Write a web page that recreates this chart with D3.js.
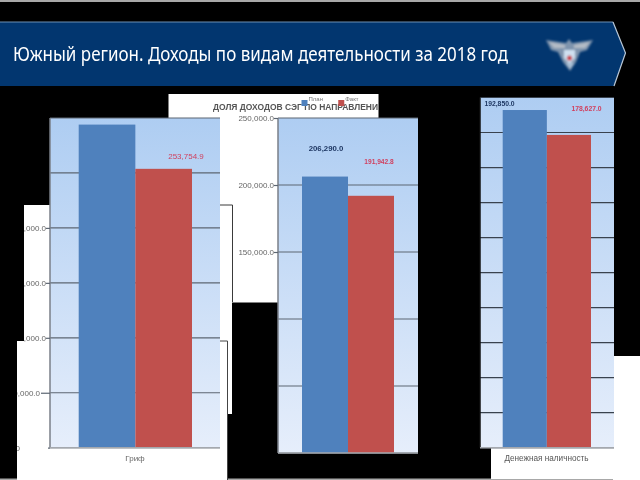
<!DOCTYPE html>
<html><head><meta charset="utf-8">
<script src="https://cdn.jsdelivr.net/npm/d3@7"></script>
<style>html,body{margin:0;padding:0;background:#000}svg{display:block}</style>
</head><body><div id="c"></div>
<script>
const titleText = "Южный регион. Доходы по видам деятельности за 2018 год";
const backTitle = "ДОЛЯ ДОХОДОВ СЭГ ПО НАПРАВЛЕНИ";
const seriesNames = ["План", "Факт"];
const seriesColors = ["#4f81bd", "#c0504d"];

const grifCategory = "Гриф";
const grifValues = [294000, 253754.9];
const grifLabels = [null, "253,754.9"];
const grifTicks = [0, 50000, 100000, 150000, 200000, 250000, 300000];

const middleValues = [206290, 191942.8];
const middleLabels = ["206,290.0", "191,942.8"];
const middleTicks = [0, 50000, 100000, 150000, 200000, 250000];
const middleTickLabels = [150000, 200000, 250000];

const cashCategory = "Денежная наличность";
const cashValues = [192850, 178627];
const cashLabels = ["192,850.0", "178,627.0"];
const cashTicks = [0, 20000, 40000, 60000, 80000, 100000, 120000, 140000, 160000, 180000, 200000];

const W = 640, H = 480;
const svg = d3.select("#c").append("svg").attr("width", W).attr("height", H);
const defs = svg.append("defs");
const grad = defs.append("linearGradient").attr("id", "plotBg").attr("x1", 0).attr("y1", 0).attr("x2", 0).attr("y2", 1);
grad.append("stop").attr("offset", "0%").attr("stop-color", "#aecdf2");
grad.append("stop").attr("offset", "100%").attr("stop-color", "#e6eefb");
defs.append("filter").attr("id", "soft").append("feGaussianBlur").attr("stdDeviation", 0.35);
defs.append("filter").attr("id", "softer").append("feGaussianBlur").attr("stdDeviation", 0.7);
defs.append("filter").attr("id", "logoBlur").append("feGaussianBlur").attr("stdDeviation", 0.8);

const FONT = "'Liberation Sans', Arial, sans-serif";

// page
svg.append("rect").attr("width", W).attr("height", H).attr("fill", "#000");
svg.append("rect").attr("width", W).attr("height", 2).attr("fill", "#a8a8a8");
svg.append("rect").attr("y", 478.5).attr("width", W).attr("height", 1.5).attr("fill", "#a8a8a8");

// banner
svg.append("path").attr("d", "M0,22L613,22L625.5,53L614,86L0,86Z").attr("fill", "#02366f");
svg.append("path").attr("d", "M0,22L613,22").attr("stroke", "#6d8fb3").attr("stroke-width", 1).attr("fill", "none");
svg.append("path").attr("d", "M613,22L625.5,53L614,86").attr("stroke", "#b9c7d6").attr("stroke-width", 1.2).attr("fill", "none");
svg.append("text").text(titleText).attr("x", 13).attr("y", 60.5)
  .attr("fill", "#fff").attr("font-family", "'Noto Sans', sans-serif").attr("font-size", 19)
  .attr("textLength", 495).attr("lengthAdjust", "spacingAndGlyphs").attr("filter", "url(#soft)");

// emblem
const logo = svg.append("g").attr("filter", "url(#logoBlur)");
logo.append("path").attr("d", "M546,40L566,43L569,39L572,43L593,40L587,50L580,52L576,62L570,71L563,62L558,52L551,50Z").attr("fill", "#7f94ad");
logo.append("path").attr("d", "M549,42L565,45L565,48L554,48Z M590,42L574,45L574,48L585,48Z").attr("fill", "#b4bcc6");
logo.append("path").attr("d", "M564,50L575,50L575,58L569.5,64L564,58Z").attr("fill", "#cfe0f0");
logo.append("circle").attr("cx", 569.5).attr("cy", 58).attr("r", 2.6).attr("fill", "#c9404a");
logo.append("path").attr("d", "M566,63L574,63L570,69Z").attr("fill", "#a9c0d6");

// back panel with its title and legend
svg.append("rect").attr("x", 168.5).attr("y", 94).attr("width", 210).attr("height", 208.5).attr("fill", "#fff");
svg.append("text").text(backTitle).attr("x", 213).attr("y", 110).attr("fill", "#555")
  .attr("font-family", FONT).attr("font-weight", "bold").attr("font-size", 8.6)
  .attr("textLength", 165).attr("lengthAdjust", "spacingAndGlyphs").attr("filter", "url(#soft)");
const legendX = d3.scaleBand().domain(seriesNames).range([301.5, 375]);
const lg = svg.append("g").selectAll("g").data(seriesNames).join("g")
  .attr("transform", d => `translate(${legendX(d)},100)`);
lg.append("rect").attr("width", 6).attr("height", 6).attr("fill", (d, i) => seriesColors[i]);
lg.append("text").text(d => d).attr("x", 7).attr("y", 1).attr("fill", "#777").attr("font-family", FONT)
  .attr("font-size", 6).attr("filter", "url(#softer)");

// second and third white panels (behind the Гриф chart)
svg.append("rect").attr("x", 23).attr("y", 205).attr("width", 209).attr("height", 209).attr("fill", "#fff");
svg.append("path").attr("d", "M200,205H232.5V302").attr("stroke", "#3a3a3a").attr("fill", "none");
svg.append("rect").attr("x", 17).attr("y", 341).attr("width", 211).attr("height", 139).attr("fill", "#fff");
svg.append("path").attr("d", "M200,341H227.5V480").attr("stroke", "#444").attr("fill", "none");
// white panels on the lower right
svg.append("rect").attr("x", 613).attr("y", 356).attr("width", 27).attr("height", 124).attr("fill", "#fff");
svg.append("rect").attr("x", 491).attr("y", 448).attr("width", 149).attr("height", 31).attr("fill", "#fff");

function drawChart(cfg) {
  const y = d3.scaleLinear().domain([0, cfg.max]).range([cfg.bottom, cfg.top]);
  const x = d3.scaleBand().domain(seriesNames).range([cfg.barLeft, cfg.barRight]);
  const g = svg.append("g");
  g.append("rect").attr("x", cfg.left).attr("y", cfg.top).attr("width", cfg.right - cfg.left)
    .attr("height", cfg.bottom - cfg.top).attr("fill", "url(#plotBg)");
  g.append("g").selectAll("line").data(cfg.ticks).join("line")
    .attr("x1", cfg.left).attr("x2", cfg.right).attr("y1", d => y(d)).attr("y2", d => y(d))
    .attr("stroke", cfg.gridColor).attr("stroke-width", 1.2);
  g.append("g").selectAll("rect").data(cfg.values).join("rect")
    .attr("x", (d, i) => x(seriesNames[i])).attr("width", x.bandwidth())
    .attr("y", d => y(d)).attr("height", d => cfg.bottom - y(d))
    .attr("fill", (d, i) => seriesColors[i]);
  g.append("line").attr("x1", cfg.left).attr("x2", cfg.left).attr("y1", cfg.top).attr("y2", cfg.bottom)
    .attr("stroke", cfg.axisColor).attr("stroke-width", 1.5);
  g.append("line").attr("x1", cfg.left).attr("x2", cfg.right).attr("y1", cfg.bottom).attr("y2", cfg.bottom)
    .attr("stroke", "#a4a8ae").attr("stroke-width", 1.5);
  g.append("g").selectAll("text").data(cfg.labels.map((t, i) => ({ t, i })).filter(d => d.t)).join("text")
    .text(d => d.t)
    .attr("x", d => cfg.labelPos[d.i][0]).attr("y", d => cfg.labelPos[d.i][1])
    .attr("text-anchor", "middle").attr("font-family", FONT)
    .attr("font-size", d => cfg.labelSize[d.i]).attr("font-weight", cfg.labelWeight)
    .attr("fill", d => d.i === 0 ? "#1f3864" : "#d0405f").attr("filter", "url(#soft)");
  return { x, y, g };
}

const midY = d3.scaleLinear().domain([0, 250000]).range([453, 118]);
function styleAxis(sel) {
  sel.select(".domain").remove();
  sel.selectAll("line").attr("stroke", "#5c6672").attr("stroke-width", 1.2);
  sel.selectAll("text").attr("fill", "#666").attr("font-family", FONT).attr("font-size", 8).attr("filter", "url(#soft)");
}

const grif = drawChart({
  left: 50, right: 220, top: 118, bottom: 447.7, max: 300000,
  barLeft: 78.7, barRight: 192, ticks: grifTicks, values: grifValues, labels: grifLabels,
  labelPos: [[107, 112], [186, 158.5]], labelSize: [8, 8], labelWeight: "normal",
  axisColor: "#7a7f88", gridColor: "#5c6672"
});
const fmt = d3.format(",.1f");
svg.append("g").attr("transform", "translate(50,0)")
  .call(d3.axisLeft(grif.y).tickValues([100000, 150000, 200000]).tickSize(4).tickPadding(0).tickFormat(fmt))
  .call(styleAxis);
svg.append("g").attr("transform", "translate(50,0)")
  .call(d3.axisLeft(grif.y).tickValues([50000]).tickSize(9).tickPadding(1).tickFormat(fmt))
  .call(styleAxis);
svg.append("g").attr("transform", "translate(50,0)")
  .call(d3.axisLeft(grif.y).tickValues([0]).tickSize(2).tickPadding(28).tickFormat(d => "0"))
  .call(styleAxis);
// cover what falls outside the white panels
svg.append("rect").attr("x", 0).attr("y", 205).attr("width", 24).attr("height", 136).attr("fill", "#000");
svg.append("rect").attr("x", 0).attr("y", 341).attr("width", 17).attr("height", 137).attr("fill", "#000");

svg.append("text").text(grifCategory).attr("x", 135).attr("y", 461).attr("text-anchor", "middle")
  .attr("fill", "#666").attr("font-family", FONT).attr("font-size", 8).attr("filter", "url(#soft)");

const mid = drawChart({
  left: 278, right: 418, top: 118, bottom: 453, max: 250000,
  barLeft: 302, barRight: 394, ticks: middleTicks, values: middleValues, labels: middleLabels,
  labelPos: [[326, 151], [379, 164]], labelSize: [7.8, 6.6], labelWeight: "bold",
  axisColor: "#7a7f88", gridColor: "#5c6672"
});
svg.append("g").attr("transform", "translate(278,0)")
  .call(d3.axisLeft(midY).tickValues(middleTickLabels).tickSize(4).tickPadding(0).tickFormat(fmt))
  .call(styleAxis);

const cash = drawChart({
  left: 480, right: 614, top: 97.5, bottom: 447.7, max: 200000,
  barLeft: 502.7, barRight: 591, ticks: cashTicks, values: cashValues, labels: cashLabels,
  labelPos: [[499.5, 105.5], [586.5, 110.5]], labelSize: [6.8, 6.8], labelWeight: "bold",
  axisColor: "#111", gridColor: "#39424e"
});
svg.append("text").text(cashCategory).attr("x", 546.5).attr("y", 461).attr("text-anchor", "middle")
  .attr("fill", "#555").attr("font-family", FONT).attr("font-size", 8.2).attr("filter", "url(#softer)");
</script></body></html>
